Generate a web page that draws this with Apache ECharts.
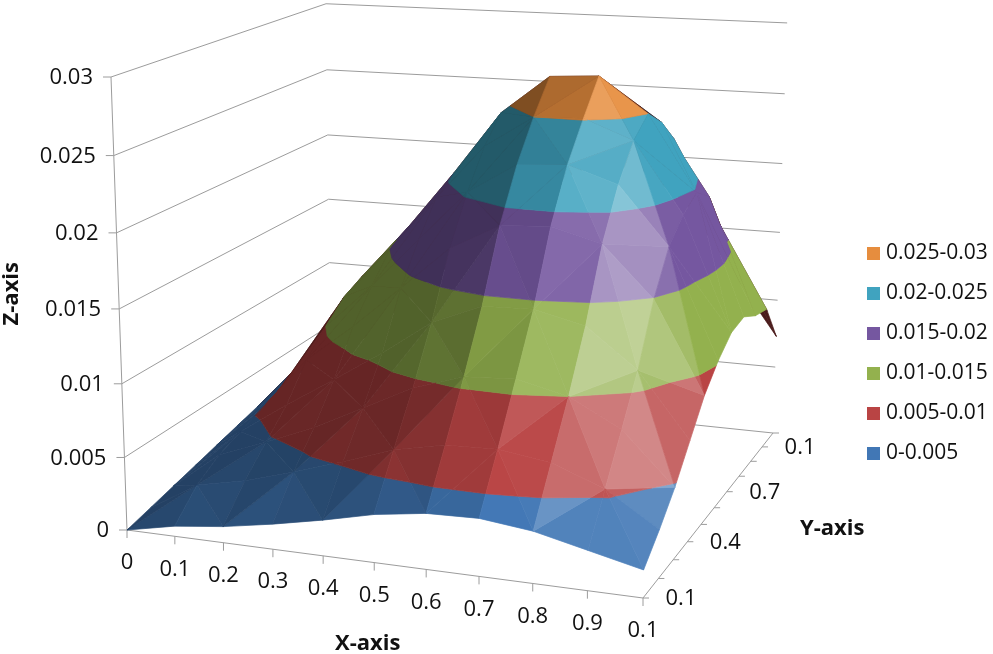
<!DOCTYPE html>
<html>
<head>
<meta charset="utf-8">
<title>Surface chart</title>
<script src="https://cdn.jsdelivr.net/npm/echarts@6/dist/echarts.min.js"></script>
<style>
  html, body { margin: 0; padding: 0; background: #fff; }
  #chart { width: 993px; height: 654px; }
</style>
</head>
<body>
<div id="chart"></div>
<script>
// tick labels, as printed on the picture
const xLabels = ['0', '0.1', '0.2', '0.3', '0.4', '0.5', '0.6', '0.7', '0.8', '0.9', '0.1']
const yLabels = ['0.1', '', '', '0.4', '', '', '0.7', '', '', '0.1', '']
const zTicks = [0, 0.005, 0.01, 0.015, 0.02, 0.025, 0.03]
const zTickLabels = ['0', '0.005', '0.01', '0.015', '0.02', '0.025', '0.03']

// bands, bottom to top
const bandNames = ['0-0.005', '0.005-0.01', '0.01-0.015', '0.015-0.02', '0.02-0.025', '0.025-0.03']
const bandLimits = [0, 0.005, 0.01, 0.015, 0.02, 0.025, 0.03]
const bandColors = ['#4177b5', '#b94444', '#93b14e', '#7557a0', '#40a3bf', '#e68d3e']

// surface heights, one row per y tick, front to back
const row0 = [0, 0.0007, 0.0011, 0.0017, 0.0024, 0.0032, 0.0037, 0.0038, 0.0034, 0.0026, 0.0018]
const row1 = [0.0004, 0.0024, 0.0031, 0.0041, 0.0052, 0.0064, 0.0071, 0.0072, 0.0067, 0.0054, 0.0032]
const row2 = [0.0008, 0.0034, 0.0047, 0.0061, 0.0078, 0.0095, 0.0106, 0.0108, 0.0100, 0.0082, 0.0048]
const row3 = [0.0012, 0.0040, 0.0063, 0.0084, 0.0106, 0.0130, 0.0144, 0.0145, 0.0137, 0.0111, 0.0068]
const row4 = [0.0016, 0.0046, 0.0085, 0.0112, 0.0142, 0.0172, 0.0190, 0.0192, 0.0183, 0.0149, 0.0088]
const row5 = [0.0020, 0.0052, 0.0100, 0.0132, 0.0168, 0.0203, 0.0224, 0.0226, 0.0215, 0.0176, 0.0102]
const row6 = [0.0024, 0.0060, 0.0113, 0.0150, 0.0190, 0.0228, 0.0250, 0.0251, 0.0238, 0.0190, 0.0112]
const row7 = [0.0026, 0.0064, 0.0120, 0.0158, 0.0200, 0.0245, 0.0272, 0.0274, 0.0250, 0.0198, 0.0114]
const row8 = [0.0028, 0.0061, 0.0114, 0.0151, 0.0191, 0.0234, 0.0255, 0.0258, 0.0238, 0.0188, 0.0106]
const row9 = [0.0030, 0.0057, 0.0106, 0.0140, 0.0178, 0.0218, 0.0245, 0.0242, 0.0220, 0.0160, 0.0102]
const row10 = [0.0030, 0.0045, 0.0084, 0.0110, 0.0140, 0.0171, 0.0190, 0.0190, 0.0168, 0.0120, 0.0073]
const zRows = [row0, row1, row2, row3, row4, row5, row6, row7, row8, row9, row10]

const WIDTH = 993
const HEIGHT = 654
const FONT = '"Open Sans", sans-serif'
const GRID_COLOR = '#9c9c9c'
const Z_MAX = 0.03

// camera: floor corners, top of the z axis and where the verticals meet, in fractions of the page
const corner = (px, py) => [px / WIDTH, py / HEIGHT]
const A = corner(127, 530)
const B = corner(643, 598)
const C = corner(773, 433)
const D = corner(331, 387)
const topA = corner(111, 77)
const vanish = corner(452, 9740)

const camera = (function () {
  const dx1 = B[0] - C[0]
  const dx2 = D[0] - C[0]
  const sx = A[0] - B[0] + C[0] - D[0]
  const dy1 = B[1] - C[1]
  const dy2 = D[1] - C[1]
  const sy = A[1] - B[1] + C[1] - D[1]
  const den = dx1 * dy2 - dx2 * dy1
  const g = (sx * dy2 - dx2 * sy) / den
  const h = (dx1 * sy - sx * dy1) / den
  const a = B[0] - A[0] + g * B[0]
  const b = D[0] - A[0] + h * D[0]
  const d = B[1] - A[1] + g * B[1]
  const e = D[1] - A[1] + h * D[1]
  const i = (topA[1] - A[1]) / (vanish[1] - topA[1])
  return { a, b, d, e, g, h, i, p: i * vanish[0], q: i * vanish[1] }
})()

// x 0..1, y 0..1, z in data units -> fractions of the page
function project (x, y, z) {
  const m = camera
  const t = z / Z_MAX
  const w = m.g * x + m.h * y + m.i * t + 1
  return [
    (m.a * x + m.b * y + m.p * t + A[0]) / w,
    (m.d * x + m.e * y + m.q * t + A[1]) / w
  ]
}

// cut a triangle against one z limit
function clipZ (poly, limit, keepAbove) {
  const out = []
  poly.forEach((cur, n) => {
    const next = poly[(n + 1) % poly.length]
    const curIn = keepAbove ? cur[2] >= limit : cur[2] <= limit
    const nextIn = keepAbove ? next[2] >= limit : next[2] <= limit
    if (curIn) out.push(cur)
    if (curIn !== nextIn) {
      const t = (limit - cur[2]) / (next[2] - cur[2])
      out.push([cur[0] + (next[0] - cur[0]) * t, cur[1] + (next[1] - cur[1]) * t, limit])
    }
  })
  return out
}

function facetLight (tri) {
  const h = 0.9 / Z_MAX
  const u = [tri[1][0] - tri[0][0], tri[1][1] - tri[0][1], (tri[1][2] - tri[0][2]) * h]
  const v = [tri[2][0] - tri[0][0], tri[2][1] - tri[0][1], (tri[2][2] - tri[0][2]) * h]
  let n = [u[1] * v[2] - u[2] * v[1], u[2] * v[0] - u[0] * v[2], u[0] * v[1] - u[1] * v[0]]
  if (n[2] < 0) n = [-n[0], -n[1], -n[2]]
  const len = Math.hypot(n[0], n[1], n[2])
  const dot = (n[0] * 0.55 - n[1] * 0.65 + n[2] * 0.5) / len
  const t = Math.max(0, (dot - 0.4) / 0.55)
  // facets turned to the right stay mid bright right up to the ridge
  const side = Math.min(1, 0.55 + Math.max(0, n[0] / len) * 0.85)
  return Math.max(0.55 + 0.8 * t * t * t, side)
}

function shade (hex, k) {
  const c = [1, 3, 5].map(n => parseInt(hex.substr(n, 2), 16))
  const res = c.map(v => k <= 1 ? v * k : v + (255 - v) * (k - 1) * 0.8)
  return `rgb(${res.map(v => Math.round(Math.min(255, v))).join(',')})`
}

// split the surface into one list of pieces per band, painted back to front
const bandPieces = bandNames.map(_ => [])
let paintOrder = 0
for (let j = zRows.length - 2; j >= 0; j--) {
  for (let n = 0; n < xLabels.length - 1; n++) {
    const corners = [[n, j], [n + 1, j], [n + 1, j + 1], [n, j + 1]].map(([cx, cy]) => {
      return [cx / (xLabels.length - 1), cy / (zRows.length - 1), zRows[cy][cx]]
    })
    const tris = (n + j) % 2 === 0
      ? [[corners[0], corners[1], corners[2]], [corners[0], corners[2], corners[3]]]
      : [[corners[0], corners[1], corners[3]], [corners[1], corners[2], corners[3]]]
    tris.forEach(tri => {
      paintOrder++
      const light = facetLight(tri)
      bandNames.forEach((_, band) => {
        let poly = clipZ(tri, bandLimits[band], true)
        if (poly.length) poly = clipZ(poly, bandLimits[band + 1], false)
        if (poly.length > 2) bandPieces[band].push({ poly, tri, light, order: paintOrder })
      })
    })
  }
}

function isUnderside (tri) {
  const p = tri.map(v => project(v[0], v[1], v[2]))
  const area = (p[1][0] - p[0][0]) * (p[2][1] - p[0][1]) - (p[2][0] - p[0][0]) * (p[1][1] - p[0][1])
  return area > 0
}

const surfaceSeries = bandNames.map((name, band) => ({
  name,
  type: 'custom',
  coordinateSystem: 'cartesian2d',
  itemStyle: { color: bandColors[band] },
  z: 3,
  silent: true,
  animation: false,
  clip: false,
  data: bandPieces[band].map((_, n) => [n]),
  renderItem (params, api) {
    const piece = bandPieces[band][api.value(0)]
    const points = piece.poly.map(v => api.coord(project(v[0], v[1], v[2])))
    const fill = isUnderside(piece.tri) ? shade(bandColors[1], 0.4) : shade(bandColors[band], piece.light)
    return {
      type: 'polygon',
      z2: piece.order,
      shape: { points },
      style: { fill, stroke: fill, lineWidth: 0.7 }
    }
  }
}))

// walls, axes, ticks, tick labels: each one is a line or a text in the frame series
const frameItems = []
const addLine = (from, to, off) => frameItems.push({ from, to, off })
const addText = (at, text, dx, dy, align) => frameItems.push({ at, text, dx, dy, align })

zTicks.forEach((z, n) => {
  addLine([0, 0, z], [0, 1, z])
  addLine([0, 1, z], [1, 1, z])
  addLine([0, 0, z], [0, 0, z], [-8, 0])
  addText([0, 0, z], zTickLabels[n], -18, 1, 'right')
})
addLine([0, 0, 0], [0, 0, Z_MAX])
addLine([0, 0, 0], [1, 0, 0])
addLine([1, 0, 0], [1, 1, 0])
xLabels.forEach((label, n) => {
  const x = n / (xLabels.length - 1)
  addLine([x, 0, 0], [x, 0, 0], [0, 8])
  addText([x, 0, 0], label, 0, 33, 'center')
})
yLabels.forEach((label, n) => {
  const y = n / (yLabels.length - 1)
  addLine([1, y, 0], [1, y, 0], [6, 0])
  if (label) addText([1, y, 0], label, 38, 1, 'center')
})

const frameSeries = {
  name: 'frame',
  type: 'custom',
  coordinateSystem: 'cartesian2d',
  z: 2,
  silent: true,
  animation: false,
  clip: false,
  data: frameItems.map((_, n) => [n]),
  renderItem (params, api) {
    const item = frameItems[api.value(0)]
    if (item.text !== undefined) {
      const at = api.coord(project(item.at[0], item.at[1], item.at[2]))
      return {
        type: 'text',
        style: {
          text: item.text,
          x: at[0] + item.dx,
          y: at[1] + item.dy,
          align: item.align,
          verticalAlign: 'middle',
          fill: '#111',
          font: `22px ${FONT}`
        }
      }
    }
    const from = api.coord(project(item.from[0], item.from[1], item.from[2]))
    const to = api.coord(project(item.to[0], item.to[1], item.to[2]))
    const off = item.off || [0, 0]
    return {
      type: 'line',
      shape: { x1: from[0], y1: from[1], x2: to[0] + off[0], y2: to[1] + off[1] },
      style: { stroke: GRID_COLOR, lineWidth: 1 }
    }
  }
}

const titleStyle = { fontFamily: FONT, fontWeight: 'bold', fontSize: 22, fill: '#111' }

const chart = echarts.init(document.getElementById('chart'), null, { renderer: 'canvas' })
chart.setOption({
  animation: false,
  backgroundColor: '#fff',
  grid: { left: 0, right: 0, top: 0, bottom: 0 },
  xAxis: { type: 'value', min: 0, max: 1, show: false },
  yAxis: { type: 'value', min: 0, max: 1, inverse: true, show: false },
  legend: {
    orient: 'vertical',
    left: 862,
    top: 238,
    itemWidth: 13,
    itemHeight: 13,
    itemGap: 19,
    icon: 'rect',
    selectedMode: false,
    data: bandNames.slice().reverse(),
    textStyle: { fontFamily: FONT, fontSize: 21, color: '#111', padding: [0, 0, 0, 1] }
  },
  graphic: [
    { type: 'text', left: 335, top: 633, style: { text: 'X-axis', ...titleStyle } },
    { type: 'text', left: 800, top: 518, style: { text: 'Y-axis', ...titleStyle } },
    { type: 'text', left: 1, top: 262, rotation: Math.PI / 2, style: { text: 'Z-axis', ...titleStyle } }
  ],
  series: [frameSeries, ...surfaceSeries]
})
</script>
</body>
</html>
